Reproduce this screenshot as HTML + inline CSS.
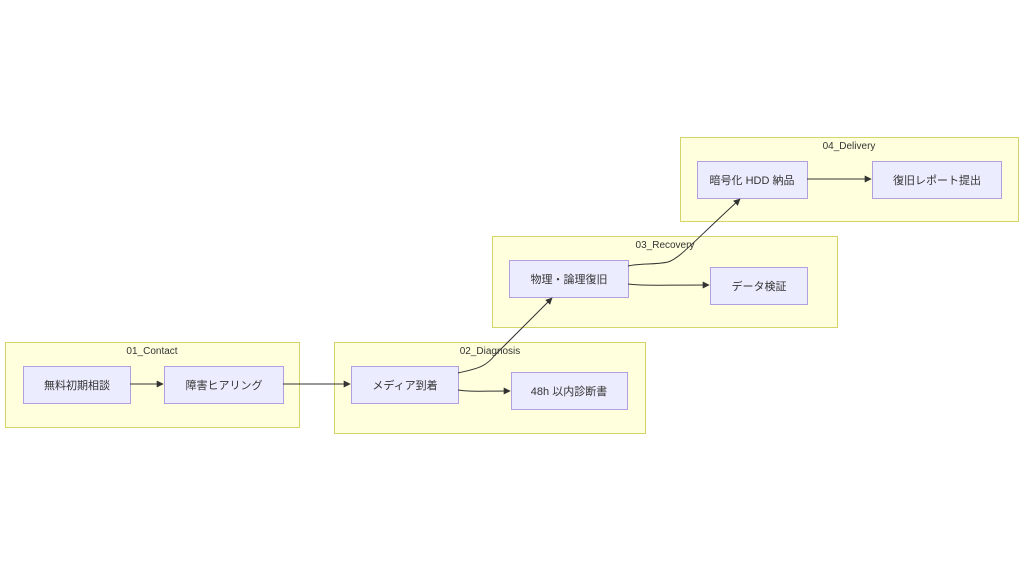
<!DOCTYPE html>
<html><head><meta charset="utf-8"><style>
body{margin:0;background:#fff;width:1024px;height:571px;overflow:hidden}
svg text{font-family:"Liberation Sans","Noto Sans CJK JP",sans-serif;fill:#333}
</style></head><body>
<svg width="1024" height="571" viewBox="0 0 1024 571">
<defs><marker id="a" viewBox="0 0 10 10" refX="9" refY="5" markerWidth="7" markerHeight="7" orient="auto"><path d="M0,0L10,5L0,10z" fill="#333"/></marker></defs>
<g fill="#ffffde" stroke="#d4d46a" stroke-width="1">
<rect x="5.5" y="342.5" width="294" height="85"/>
<rect x="334.5" y="342.5" width="311" height="91"/>
<rect x="492.5" y="236.5" width="345" height="91"/>
<rect x="680.5" y="137.5" width="338" height="84"/>
</g>
<g font-size="10" text-anchor="middle">
<text x="152" y="354">01_Contact</text>
<text x="490" y="354">02_Diagnosis</text>
<text x="665" y="248">03_Recovery</text>
<text x="849" y="149">04_Delivery</text>
</g>
<g fill="#ececff" stroke="#b39fe0" stroke-width="1">
<rect x="23.5" y="366.5" width="107" height="37"/>
<rect x="164.5" y="366.5" width="119" height="37"/>
<rect x="351.5" y="366.5" width="107" height="37"/>
<rect x="511.5" y="372.5" width="116" height="37"/>
<rect x="509.5" y="260.5" width="119" height="37"/>
<rect x="710.5" y="267.5" width="97" height="37"/>
<rect x="697.5" y="161.5" width="110" height="37"/>
<rect x="872.5" y="161.5" width="129" height="37"/>
</g>
<g font-size="11" text-anchor="middle">
<text x="77" y="389">無料初期相談</text>
<text x="224" y="389">障害ヒアリング</text>
<text x="405" y="389">メディア到着</text>
<text x="569" y="395">48h 以内診断書</text>
<text x="569" y="283">物理・論理復旧</text>
<text x="759" y="290">データ検証</text>
<text x="752" y="184">暗号化 HDD 納品</text>
<text x="937" y="184">復旧レポート提出</text>
</g>
<g fill="none" stroke="#333" stroke-width="1">
<path d="M130,384H163" marker-end="url(#a)"/>
<path d="M283,384H350" marker-end="url(#a)"/>
<path d="M458,373C475,369 485,368 495,355L552,298" marker-end="url(#a)"/>
<path d="M458,390C470,392 480,391 510,391" marker-end="url(#a)"/>
<path d="M628,266C640,263 655,265 668,262C680,258 690,245 740,199" marker-end="url(#a)"/>
<path d="M628,284C645,286 660,285 709,285" marker-end="url(#a)"/>
<path d="M807,179H871" marker-end="url(#a)"/>
</g>
</svg>
</body></html>
